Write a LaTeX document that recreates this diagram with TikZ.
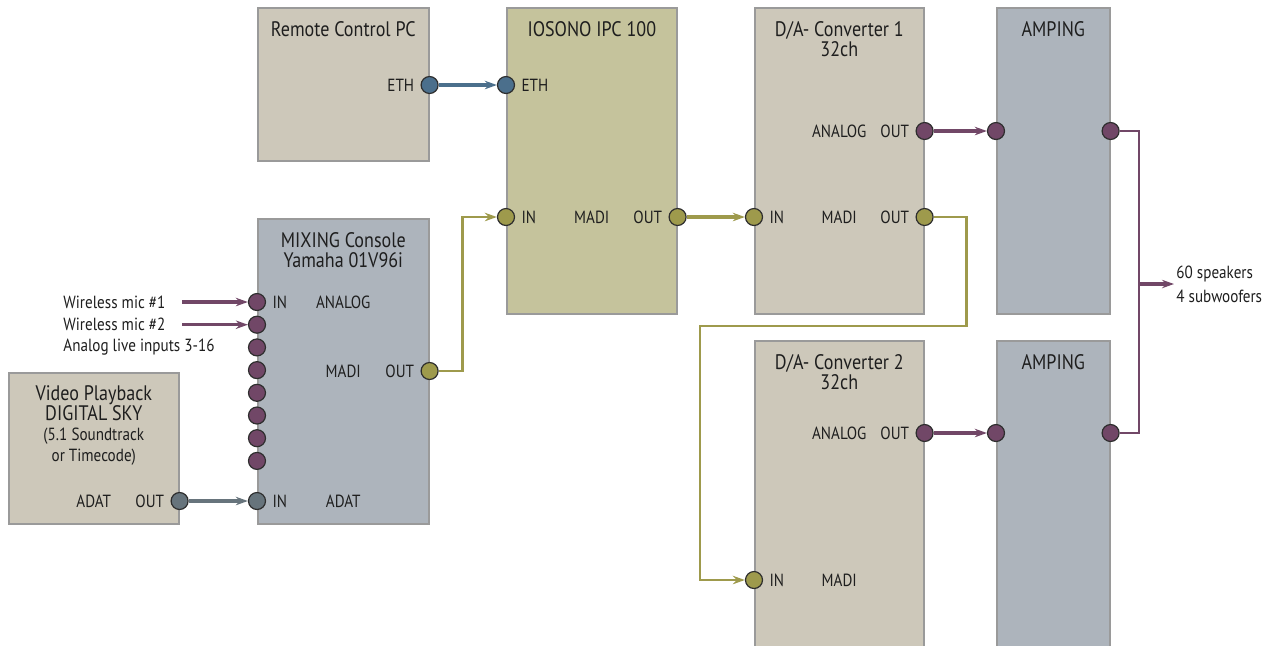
\documentclass[tikz,border=0pt]{standalone}
\usepackage{fontspec}
\setmainfont[FakeStretch=0.86]{PT Sans}
\usetikzlibrary{positioning,calc,arrows.meta}

\definecolor{boxbeige}{HTML}{CDC8BA}
\definecolor{boxolive}{HTML}{C5C39C}
\definecolor{boxslate}{HTML}{ADB4BC}
\definecolor{boxline}{HTML}{9A9A9A}
\definecolor{portline}{HTML}{2E2E2E}
\definecolor{plum}{HTML}{714767}
\definecolor{madiolive}{HTML}{9E9A4C}
\definecolor{ethblue}{HTML}{4B6F8C}
\definecolor{adatgray}{HTML}{67747C}
\definecolor{textcol}{HTML}{1E1E1E}

\begin{document}
\begin{tikzpicture}[x=0.5pt, y=-0.5pt,
        device/.style={draw=boxline, line width=0.8pt, anchor=north west, inner sep=0pt},
        port/.style={circle, draw=portline, line width=0.6pt, minimum size=8.5pt, inner sep=0pt},
        title/.style={font=\fontsize{10.5}{10.3}\selectfont, align=center, text=textcol, inner sep=0pt},
        lbl/.style={font=\fontsize{8.8}{10}\selectfont, text=textcol, inner sep=1pt},
        wire/.style={line width=1.6pt, -{Stealth[length=6pt,width=4.2pt]}},
        route/.style={line width=1.15pt, draw=madiolive},
        >=stealth
    ]
        \useasboundingbox (0,0) rectangle (1276,645);

        % devices
        \node [device, fill=boxbeige, minimum width=85.5pt, minimum height=76.5pt] (rpc) at (257,7) {};
        \node [device, fill=boxolive, minimum width=85pt, minimum height=153pt] (ipc) at (506,7) {};
        \node [device, fill=boxbeige, minimum width=84.5pt, minimum height=153pt] (daone) at (754,7) {};
        \node [device, fill=boxslate, minimum width=56.5pt, minimum height=153pt] (ampone) at (996,7) {};
        \node [device, fill=boxslate, minimum width=85.5pt, minimum height=152.5pt] (mix) at (257,218) {};
        \node [device, fill=boxbeige, minimum width=85pt, minimum height=75.5pt] (vid) at (8,372) {};
        \node [device, fill=boxbeige, minimum width=84.5pt, minimum height=156pt] (datwo) at (754,340) {};
        \node [device, fill=boxslate, minimum width=56.5pt, minimum height=156pt] (amptwo) at (996,340) {};

        % titles
        \node [title] at (rpc.north |- 0,29) {Remote Control PC};
        \node [title] at (ipc.north |- 0,29) {IOSONO IPC 100};
        \node [title] at (daone.north |- 0,39) {D/A- Converter 1\\32ch};
        \node [title] at (ampone.north |- 0,29) {AMPING};
        \node [title] at (mix.north |- 0,250) {MIXING Console\\Yamaha 01V96i};
        \node [title] at (vid.north |- 0,403) {Video Playback\\DIGITAL SKY};
        \node [lbl, align=center, font=\fontsize{8.8}{10.5}\selectfont] at (vid.north |- 0,447) {(5.1 Soundtrack\\or Timecode)};
        \node [title] at (datwo.north |- 0,372) {D/A- Converter 2\\32ch};
        \node [title] at (amptwo.north |- 0,362) {AMPING};

        % ports
        \node [port, fill=ethblue] (rpcEth) at (rpc.east |- 0,85) {};
        \node [port, fill=ethblue] (ipcEth) at (ipc.west |- 0,85) {};
        \node [port, fill=madiolive] (ipcIn) at (ipc.west |- 0,217) {};
        \node [port, fill=madiolive] (ipcOut) at (ipc.east |- 0,217) {};
        \node [port, fill=plum] (daoneAna) at (daone.east |- 0,131) {};
        \node [port, fill=madiolive] (daoneIn) at (daone.west |- 0,217) {};
        \node [port, fill=madiolive] (daoneOut) at (daone.east |- 0,217) {};
        \node [port, fill=plum] (amponeIn) at (ampone.west |- 0,131) {};
        \node [port, fill=plum] (amponeOut) at (ampone.east |- 0,131) {};
        \foreach \i in {0,...,7}
            \node [port, fill=plum] (mixA\i) at (mix.west |- 0,{302+22.7*\i}) {};
        \node [port, fill=adatgray] (mixAdat) at (mix.west |- 0,501) {};
        \node [port, fill=madiolive] (mixOut) at (mix.east |- 0,371) {};
        \node [port, fill=adatgray] (vidOut) at (vid.east |- 0,501) {};
        \node [port, fill=plum] (datwoAna) at (datwo.east |- 0,433) {};
        \node [port, fill=madiolive] (datwoIn) at (datwo.west |- 0,580) {};
        \node [port, fill=plum] (amptwoIn) at (amptwo.west |- 0,433) {};
        \node [port, fill=plum] (amptwoOut) at (amptwo.east |- 0,433) {};

        % port labels
        \node [lbl, left=2pt of rpcEth] {ETH};
        \node [lbl, right=2pt of ipcEth] {ETH};
        \node [lbl, right=2pt of ipcIn] {IN};
        \node [lbl] at (ipc.center |- ipcIn) {MADI};
        \node [lbl, left=2pt of ipcOut] {OUT};
        \node [lbl, left=2pt of daoneAna] (daoneAnaOut) {OUT};
        \node [lbl] at (daone.center |- daoneAna) {ANALOG};
        \node [lbl, right=2pt of daoneIn] {IN};
        \node [lbl] at (daone.center |- daoneIn) {MADI};
        \node [lbl, left=2pt of daoneOut] {OUT};
        \node [lbl, right=2pt of mixA0] {IN};
        \node [lbl] at (mix.center |- mixA0) {ANALOG};
        \node [lbl] at (mix.center |- mixOut) {MADI};
        \node [lbl, left=2pt of mixOut] {OUT};
        \node [lbl, right=2pt of mixAdat] {IN};
        \node [lbl] at (mix.center |- mixAdat) {ADAT};
        \node [lbl, left=2pt of vidOut] {OUT};
        \node [lbl] at (vid.center |- vidOut) {ADAT};
        \node [lbl, left=2pt of datwoAna] {OUT};
        \node [lbl] at (datwo.center |- datwoAna) {ANALOG};
        \node [lbl, right=2pt of datwoIn] {IN};
        \node [lbl] at (datwo.center |- datwoIn) {MADI};

        % sources
        \node [lbl, anchor=west] (micOne) at (61,0 |- mixA0) {Wireless mic \#1};
        \node [lbl, anchor=west] (micTwo) at (61,0 |- mixA1) {Wireless mic \#2};
        \node [lbl, anchor=west] (liveIn) at (61,0 |- mixA2) {Analog live inputs 3-16};
        \coordinate (micOneEnd) at (182,0 |- mixA0);
        \coordinate (micTwoEnd) at (182,0 |- mixA1);

        % connections
        \draw [wire, ethblue] (rpcEth) -- (ipcEth);
        \draw [wire, plum] (micOneEnd) -- (mixA0);
        \draw [wire, plum] (micTwoEnd) -- (mixA1);
        \draw [wire, adatgray] (vidOut) -- (mixAdat);
        \draw [route, -{Stealth[length=6pt,width=4.2pt]}] (mixOut) -- ++(33,0) |- (ipcIn);
        \draw [wire, madiolive] (ipcOut) -- (daoneIn);
        \draw [wire, plum] (daoneAna) -- (amponeIn);
        \draw [wire, plum] (datwoAna) -- (amptwoIn);
        \draw [route, -{Stealth[length=6pt,width=4.2pt]}] (daoneOut) -- ++(42,0) |- (700,326) |- (datwoIn);

        % speaker feed
        \coordinate (spkJoin) at (1139,284);
        \coordinate (spkEnd) at (1174,284);
        \draw [line width=1.15pt, plum] (amponeOut) -| (spkJoin) |- (amptwoOut);
        \draw [wire, plum] (spkJoin) -- (spkEnd);
        \node [lbl, anchor=west, align=left, font=\fontsize{8.8}{12}\selectfont] (spk) at (spkEnd) {60 speakers\\4 subwoofers};

    \end{tikzpicture}
\end{document}
